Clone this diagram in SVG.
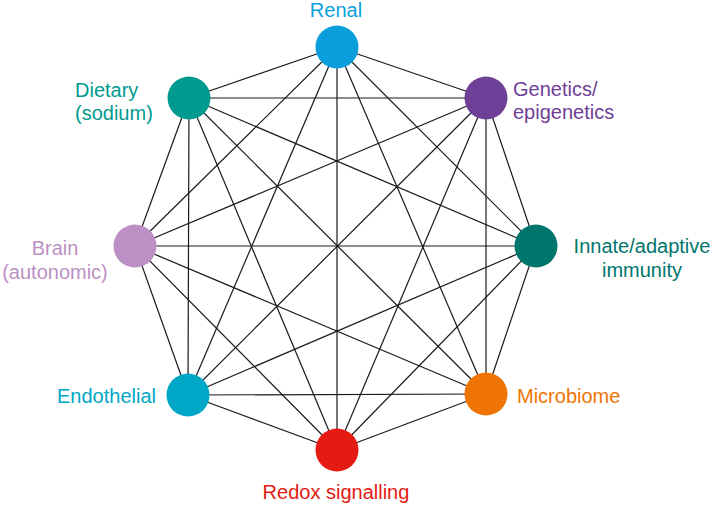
<svg xmlns="http://www.w3.org/2000/svg" width="714" height="505" viewBox="0 0 714 505">
<style>
.e line{stroke:#1a1a1a;stroke-width:1.2;fill:none}
text{font-family:"Liberation Sans",Arial,sans-serif;font-size:20px}
</style>
<rect width="714" height="505" fill="#ffffff"/>
<g id="connectors" class="e">
<line x1="337" y1="47" x2="486" y2="98"/>
<line x1="337" y1="47" x2="536" y2="246"/>
<line x1="337" y1="47" x2="486" y2="394"/>
<line x1="337" y1="47" x2="337" y2="450"/>
<line x1="337" y1="47" x2="188" y2="395"/>
<line x1="337" y1="47" x2="135" y2="246"/>
<line x1="337" y1="47" x2="189" y2="98"/>
<line x1="486" y1="98" x2="536" y2="246"/>
<line x1="486" y1="98" x2="486" y2="394"/>
<line x1="486" y1="98" x2="337" y2="450"/>
<line x1="486" y1="98" x2="188" y2="395"/>
<line x1="486" y1="98" x2="135" y2="246"/>
<line x1="486" y1="98" x2="189" y2="98"/>
<line x1="536" y1="246" x2="486" y2="394"/>
<line x1="536" y1="246" x2="337" y2="450"/>
<line x1="536" y1="246" x2="188" y2="395"/>
<line x1="536" y1="246" x2="135" y2="246"/>
<line x1="536" y1="246" x2="189" y2="98"/>
<line x1="486" y1="394" x2="337" y2="450"/>
<line x1="486" y1="394" x2="188" y2="395"/>
<line x1="486" y1="394" x2="135" y2="246"/>
<line x1="486" y1="394" x2="189" y2="98"/>
<line x1="337" y1="450" x2="188" y2="395"/>
<line x1="337" y1="450" x2="135" y2="246"/>
<line x1="337" y1="450" x2="189" y2="98"/>
<line x1="188" y1="395" x2="135" y2="246"/>
<line x1="188" y1="395" x2="189" y2="98"/>
<line x1="135" y1="246" x2="189" y2="98"/>
</g>
<g id="renal">
<circle cx="337" cy="47" r="21.5" fill="#0a9fdc"/>
<text x="336" y="17" text-anchor="middle" fill="#0a9fdc">Renal</text>
</g>
<g id="genetics">
<circle cx="486" cy="98" r="21.5" fill="#6f4097"/>
<text x="513" y="96" fill="#6f4097">Genetics/</text>
<text x="513" y="119" fill="#6f4097">epigenetics</text>
</g>
<g id="immunity">
<circle cx="536" cy="246" r="21.5" fill="#00756d"/>
<text x="642" y="253" text-anchor="middle" fill="#00756d">Innate/adaptive</text>
<text x="642" y="277" text-anchor="middle" fill="#00756d">immunity</text>
</g>
<g id="microbiome">
<circle cx="486" cy="394" r="21.5" fill="#ee7503"/>
<text x="517" y="403" fill="#ee7503">Microbiome</text>
</g>
<g id="redox">
<circle cx="337" cy="450" r="21.5" fill="#e41a13"/>
<text x="336" y="499" text-anchor="middle" fill="#e41a13">Redox signalling</text>
</g>
<g id="endothelial">
<circle cx="188" cy="395" r="21.5" fill="#00a7c6"/>
<text x="156" y="403" text-anchor="end" fill="#00a7c6">Endothelial</text>
</g>
<g id="brain">
<circle cx="135" cy="246" r="21.5" fill="#bc90c4"/>
<text x="55" y="255" text-anchor="middle" fill="#bc90c4">Brain</text>
<text x="55" y="279" text-anchor="middle" fill="#bc90c4">(autonomic)</text>
</g>
<g id="dietary">
<circle cx="189" cy="98" r="21.5" fill="#009a8f"/>
<text x="75" y="97" fill="#009a8f">Dietary</text>
<text x="75" y="120" fill="#009a8f">(sodium)</text>
</g>
</svg>
